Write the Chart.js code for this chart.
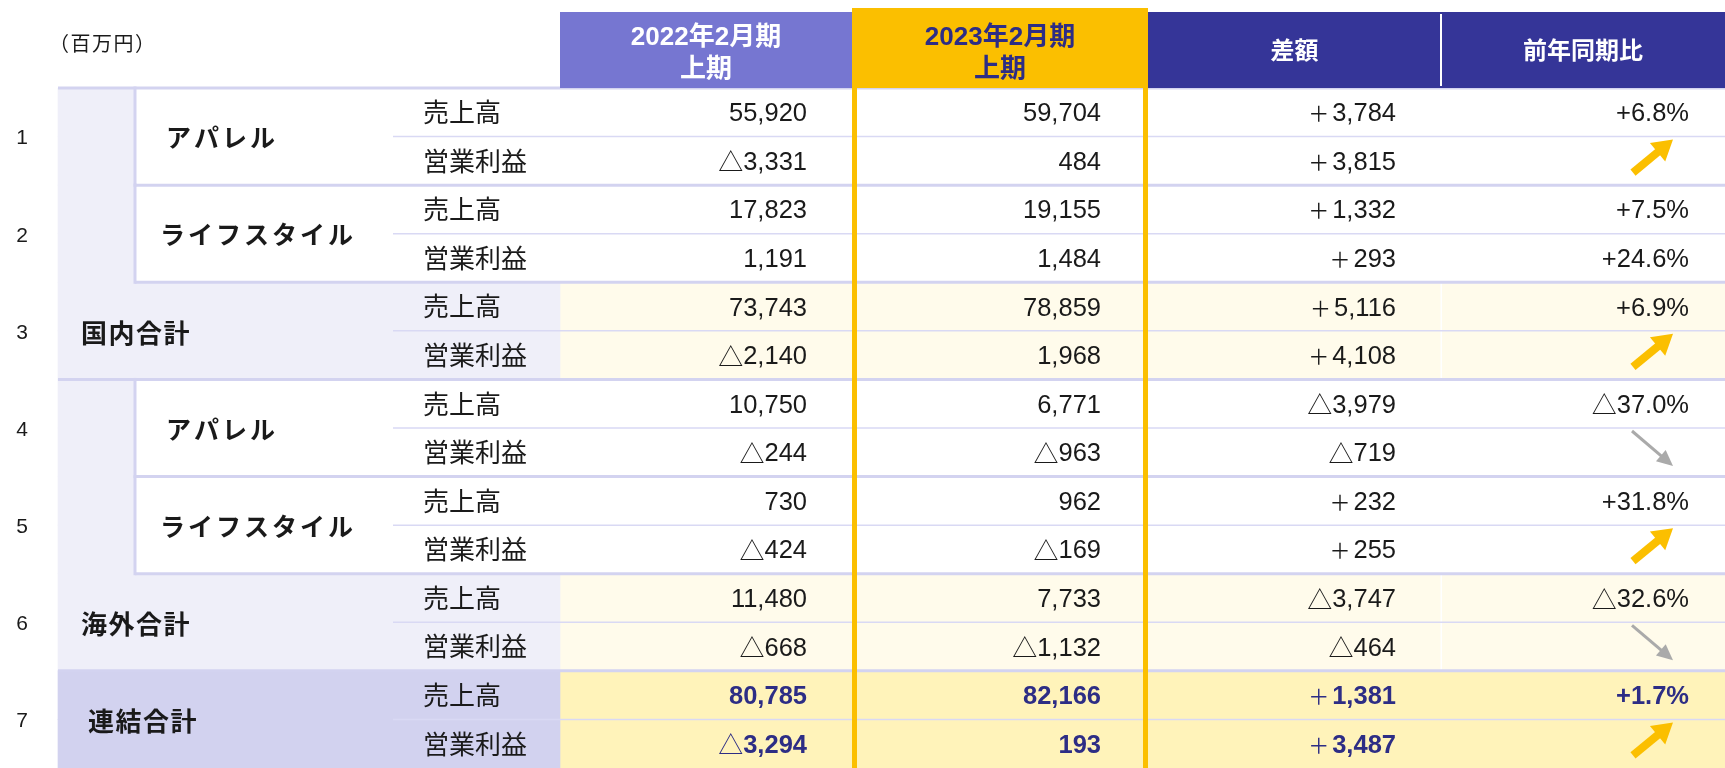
<!DOCTYPE html>
<html><head><meta charset="utf-8">
<script src="https://cdn.jsdelivr.net/npm/chart.js@4.4.1/dist/chart.umd.min.js"></script>
<style>html,body{margin:0;padding:0;background:#fff;overflow:hidden}#wrap{width:1725px;height:768px;position:relative}</style>
</head><body><div id="wrap"><canvas id="c"></canvas></div>
<script>
// ---------- DATA ----------
const unitLabel = '（百万円）';
const headerLabels = [['2022年2月期', '上期'], ['2023年2月期', '上期'], ['差額'], ['前年同期比']];
const groupNumbers = ['1', '2', '3', '4', '5', '6', '7'];
const groupNames = ['アパレル', 'ライフスタイル', '国内合計', 'アパレル', 'ライフスタイル', '海外合計', '連結合計'];
const groupKinds = ['sub', 'sub', 'total', 'sub', 'sub', 'total', 'grand'];
const metrics = ['売上高', '営業利益'];
// rows: for each group, 売上高 then 営業利益
const fy2022 = [55920, -3331, 17823, 1191, 73743, -2140, 10750, -244, 730, -424, 11480, -668, 80785, -3294];
const fy2023 = [59704, 484, 19155, 1484, 78859, 1968, 6771, -963, 962, -169, 7733, -1132, 82166, 193];
const diffValues = [3784, 3815, 1332, 293, 5116, 4108, -3979, -719, 232, 255, -3747, -464, 1381, 3487];
const yoyPct = [6.8, null, 7.5, 24.6, 6.9, null, -37.0, null, 31.8, null, -32.6, null, 1.7, null];
const yoyArrow = [null, 'up', null, null, null, 'up', null, 'down', null, 'up', null, 'down', null, 'up'];

// ---------- LAYOUT / STYLE ----------
const L = {
  W: 1725, headerBottom: 88, rowH: 48.75,
  xNum: 22, xCat: 58, xSub: 135, xThinLine: 393, xMetric: 423,
  colEdges: [560, 852, 1148, 1441, 1725],
  xRight: [807, 1101, 1396, 1689],
  nameX: { 'アパレル': 166, 'ライフスタイル': 160, '国内合計': 81, '海外合計': 81, '連結合計': 88 },
  unitX: 49, unitY: 43,
  headTop: 12, goldTop: 8, headLine1: 38, headLine2: 70, headSingle: 50,
  goldBorder: 5, plusGap: 3,
  arrowUp: { x0: 1633, y0: 36, x1: 1673, y1: 3, w: 8, headL: 20, headW: 24 },
  arrowDown: { x0: 1632, y0: 3, x1: 1673, y1: 38, w: 3, headL: 16, headW: 15 }
};
const C = {
  purple: '#7676d1', gold: '#fbbf00', navy: '#353598', navyText: '#2d2d85',
  lightCat: '#efeff9', grandCat: '#d2d2ef', cream: '#fffbeb', yellow: '#fff3ba',
  thick: '#d3d3f0', thin: '#d9d9f4', text: '#1a1a1a', gray: '#aaaaaa', white: '#ffffff'
};
const NUMF = '"Liberation Sans", "DejaVu Sans", "Noto Sans CJK JP", sans-serif';
const JPF = '"Noto Sans CJK JP", sans-serif';

const rowLabels = [];
groupNames.forEach((g, gi) => metrics.forEach(m => rowLabels.push(groupNumbers[gi] + ' ' + g + ' ' + m)));
const rowKind = rowLabels.map((_, i) => groupKinds[Math.floor(i / 2)]);

// returns [prefix, body]
const fmtNum = v => [v < 0 ? '△' : '', Math.abs(v).toLocaleString('en-US')];
const fmtDiff = v => [v < 0 ? '△' : '＋', Math.abs(v).toLocaleString('en-US')];
const fmtPct = v => v < 0 ? ['△', Math.abs(v).toFixed(1) + '%'] : ['', '+' + Math.abs(v).toFixed(1) + '%'];

function txt(ctx, s, x, y, font, color, align, ls) {
  ctx.save();
  ctx.font = font; ctx.fillStyle = color; ctx.textAlign = align; ctx.textBaseline = 'middle';
  if (ls) ctx.letterSpacing = ls + 'px';
  ctx.fillText(s, x, y);
  const w = ctx.measureText(s).width;
  ctx.restore();
  return w;
}
function valueText(ctx, parts, xr, y, font, color) {
  const w = txt(ctx, parts[1], xr, y, font, color, 'right');
  if (parts[0] === '△') txt(ctx, parts[0], xr - w, y - 1, '25px ' + JPF, color, 'right');
  else if (parts[0]) txt(ctx, parts[0], xr - w - L.plusGap, y - 1, '21px ' + JPF, color, 'right');
}
function line(ctx, x0, y0, x1, y1, color, w) {
  ctx.save(); ctx.strokeStyle = color; ctx.lineWidth = w;
  ctx.beginPath(); ctx.moveTo(x0, y0); ctx.lineTo(x1, y1); ctx.stroke(); ctx.restore();
}
function arrow(ctx, x0, y0, x1, y1, spec, color) {
  const dx = x1 - x0, dy = y1 - y0, len = Math.hypot(dx, dy);
  const ux = dx / len, uy = dy / len, px = -uy, py = ux;
  const bx = x1 - ux * spec.headL, by = y1 - uy * spec.headL;
  ctx.save();
  ctx.strokeStyle = color; ctx.fillStyle = color; ctx.lineWidth = spec.w; ctx.lineCap = 'butt';
  ctx.beginPath(); ctx.moveTo(x0, y0); ctx.lineTo(bx + ux * 2, by + uy * 2); ctx.stroke();
  ctx.beginPath();
  ctx.moveTo(x1, y1);
  ctx.lineTo(bx + px * spec.headW / 2, by + py * spec.headW / 2);
  ctx.lineTo(bx - px * spec.headW / 2, by - py * spec.headW / 2);
  ctx.closePath(); ctx.fill();
  ctx.restore();
}

const tablePlugin = {
  id: 'tablePlugin',
  afterDatasetsDraw(chart) {
    const { ctx, scales: { x, y } } = chart;
    const X = v => x.getPixelForValue(v);
    const rowH = y.getPixelForValue(1) - y.getPixelForValue(0);
    const rowTop = i => y.getPixelForValue(i) - rowH / 2;
    const rowMid = i => y.getPixelForValue(i);
    const nG = groupNames.length;
    const bottom = rowTop(rowLabels.length);

    // white split in total rows
    groupKinds.forEach((k, g) => {
      if (k === 'total') { ctx.fillStyle = C.white; ctx.fillRect(X(L.colEdges[3]) - 0.5, rowTop(2 * g), 1.5, rowH * 2); }
    });
    // thin lines between metrics
    for (let g = 0; g < nG; g++) line(ctx, X(L.xThinLine), rowTop(2 * g + 1), X(L.W), rowTop(2 * g + 1), C.thin, 1.5);
    // thick group lines
    for (let g = 0; g < nG; g++) {
      const start = (g === 0 || groupKinds[g - 1] !== 'sub') ? L.xCat : L.xSub;
      line(ctx, X(start), rowTop(2 * g), X(L.W), rowTop(2 * g), C.thick, 3);
    }
    // vertical line left of sub groups
    for (let g = 0; g < nG; g++) {
      if (groupKinds[g] === 'sub') line(ctx, X(L.xSub), rowTop(2 * g) - 1.5, X(L.xSub), rowTop(2 * g + 2) + 1.5, C.thick, 3);
    }

    // header
    const hb = rowTop(0);
    const e = L.colEdges;
    ctx.fillStyle = C.purple; ctx.fillRect(X(e[0]), L.headTop, X(e[1]) - X(e[0]), hb - L.headTop);
    ctx.fillStyle = C.navy; ctx.fillRect(X(e[2]), L.headTop, X(e[4]) - X(e[2]), hb - L.headTop);
    ctx.fillStyle = C.gold; ctx.fillRect(X(e[1]), L.goldTop, X(e[2]) - X(e[1]), hb - L.goldTop);
    line(ctx, X(e[3]), L.headTop + 2, X(e[3]), hb - 2, C.white, 2);
    const HF = 'bold 26px ' + NUMF;
    const HF2 = 'bold 24px ' + JPF;
    const cx = i => (X(e[i]) + X(e[i + 1])) / 2;
    txt(ctx, headerLabels[0][0], cx(0), L.headLine1, HF, C.white, 'center');
    txt(ctx, headerLabels[0][1], cx(0), L.headLine2, HF, C.white, 'center');
    txt(ctx, headerLabels[1][0], cx(1), L.headLine1, HF, C.navyText, 'center');
    txt(ctx, headerLabels[1][1], cx(1), L.headLine2, HF, C.navyText, 'center');
    txt(ctx, headerLabels[2][0], cx(2), L.headSingle, HF2, C.white, 'center');
    txt(ctx, headerLabels[3][0], cx(3), L.headSingle, HF2, C.white, 'center');

    txt(ctx, unitLabel, L.unitX, L.unitY, '20px ' + JPF, C.text, 'left', 1.5);

    // group labels
    for (let g = 0; g < nG; g++) {
      const my = (rowTop(2 * g) + rowTop(2 * g + 2)) / 2;
      txt(ctx, groupNumbers[g], X(L.xNum), my + 2, '21px ' + NUMF, C.text, 'center');
      const k = groupKinds[g];
      if (k === 'sub') txt(ctx, groupNames[g], X(L.nameX[groupNames[g]]), my + 1, 'bold 25px ' + JPF, C.text, 'left', 3);
      else txt(ctx, groupNames[g], X(L.nameX[groupNames[g]]), my + 2, 'bold 26px ' + JPF, C.text, 'left', 1.5);
    }
    // rows
    rowLabels.forEach((_, i) => {
      const my = rowMid(i) + 2;
      const grand = rowKind[i] === 'grand';
      const NF = (grand ? 'bold ' : '') + '25.5px ' + NUMF;
      const col = grand ? C.navyText : C.text;
      txt(ctx, metrics[i % 2], X(L.xMetric), my - 2, '26px ' + JPF, C.text, 'left');
      valueText(ctx, fmtNum(fy2022[i]), X(L.xRight[0]), my, NF, col);
      valueText(ctx, fmtNum(fy2023[i]), X(L.xRight[1]), my, NF, col);
      valueText(ctx, fmtDiff(diffValues[i]), X(L.xRight[2]), my, NF, col);
      if (yoyPct[i] !== null) valueText(ctx, fmtPct(yoyPct[i]), X(L.xRight[3]), my, NF, col);
      const t = rowTop(i);
      if (yoyArrow[i] === 'up') { const a = L.arrowUp; arrow(ctx, X(a.x0), t + a.y0, X(a.x1), t + a.y1, a, C.gold); }
      if (yoyArrow[i] === 'down') { const a = L.arrowDown; arrow(ctx, X(a.x0), t + a.y0, X(a.x1), t + a.y1, a, C.gray); }
    });

    // gold column borders
    ctx.fillStyle = C.gold;
    ctx.fillRect(X(e[1]), L.goldTop, L.goldBorder, bottom - L.goldTop + 5);
    ctx.fillRect(X(e[2]) - L.goldBorder, L.goldTop, L.goldBorder, bottom - L.goldTop + 5);
  }
};

const catBg = rowLabels.map((_, i) => [L.xCat, rowKind[i] === 'sub' ? L.xSub : L.colEdges[0]]);
const catColors = rowKind.map(k => k === 'grand' ? C.grandCat : C.lightCat);
const dataBg = rowLabels.map(() => [L.colEdges[0], L.W]);
const dataColors = rowKind.map(k => k === 'grand' ? C.yellow : (k === 'total' ? C.cream : C.white));

new Chart(document.getElementById('c'), {
  type: 'bar',
  data: {
    labels: rowLabels,
    datasets: [
      { label: 'category', data: catBg, backgroundColor: catColors, borderWidth: 0 },
      { label: 'cells', data: dataBg, backgroundColor: dataColors, borderWidth: 0 }
    ]
  },
  options: {
    indexAxis: 'y',
    responsive: true, maintainAspectRatio: false, animation: false, events: [],
    layout: { padding: { top: L.headerBottom, bottom: 768 - L.headerBottom - rowLabels.length * L.rowH, left: 0, right: 0 } },
    datasets: { bar: { grouped: false, categoryPercentage: 1, barPercentage: 1, borderSkipped: false } },
    scales: {
      x: { type: 'linear', min: 0, max: L.W, display: false },
      y: { type: 'category', display: false, offset: true }
    },
    plugins: { legend: { display: false }, tooltip: { enabled: false } }
  },
  plugins: [tablePlugin]
});
</script></body></html>
